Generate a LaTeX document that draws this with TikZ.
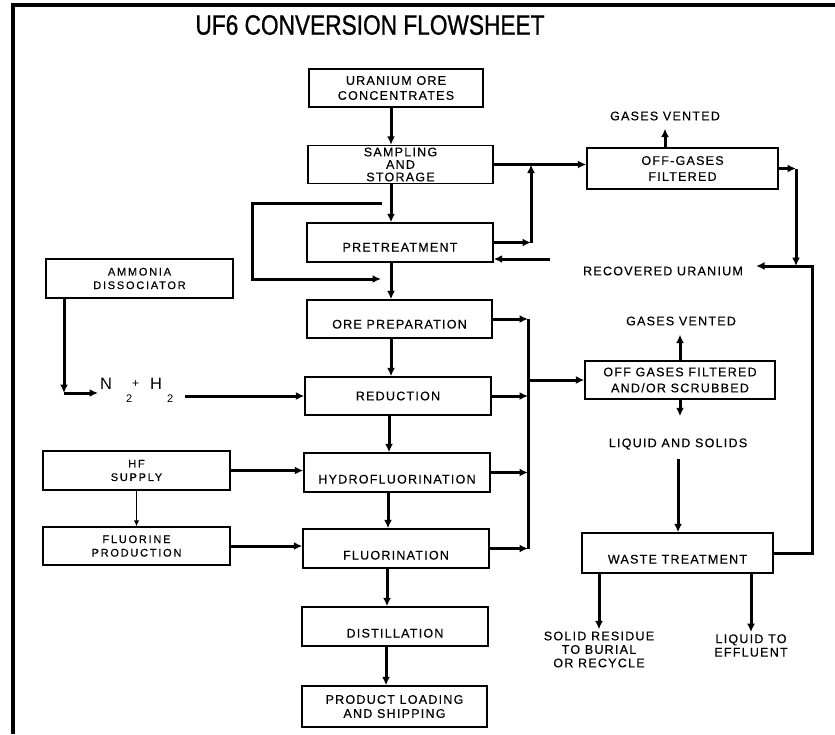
\documentclass[tikz,border=0pt]{standalone}
\usepackage{fontspec}
\setmainfont{Liberation Sans}
\newfontfamily\lblfont[LetterSpace=10,FakeBold=0.4]{Liberation Sans}
\newfontfamily\smlfont[LetterSpace=16,FakeBold=0.3]{Liberation Sans}
\newfontfamily\titlefont[FakeStretch=0.81,FakeBold=0.8]{Liberation Sans}
\usetikzlibrary{arrows.meta}
\begin{document}
\begin{tikzpicture}[x=1pt,y=-1pt,
  box/.style={draw,line width=1.4pt,inner sep=0pt,align=center,minimum height=39pt,
    font=\lblfont\fontsize{12.5}{15}\selectfont},
  sbox/.style={draw,line width=1.2pt,inner sep=0pt,align=center,minimum width=187pt,minimum height=39pt,
    font=\smlfont\fontsize{11}{13.5}\selectfont},
  capsdown/.style={text height=#1,text depth=0pt},
  lbl/.style={inner sep=2pt,align=center,font=\lblfont\fontsize{12.5}{13.5}\selectfont},
  flow/.style={line width=3pt,-{Latex[length=8.5pt,width=8pt]}},
  plain/.style={line width=3pt},
  thinflow/.style={line width=1.5pt,-{Latex[length=6pt,width=5.5pt]}},
]
\useasboundingbox (0,0) rectangle (835,734);
% frame
\draw[line width=4pt,line join=miter] (13,734) -- (13,5) -- (835,5);
% title
\node[inner sep=0pt,font=\titlefont\fontsize{28}{30}\selectfont] (title) at (370,25) {UF6 CONVERSION FLOWSHEET};

% main column
\node[box,minimum width=174pt,minimum height=38pt] (uoc) at (396,88) {URANIUM ORE\\CONCENTRATES};
\node[box,minimum width=185pt,minimum height=38pt,font=\lblfont\fontsize{12.5}{12.5}\selectfont] (samp) at (400.5,164.5) {SAMPLING\\AND\\STORAGE};
\node[box,minimum width=186pt,capsdown=18pt] (pre) at (400,242.5) {PRETREATMENT};
\node[box,minimum width=185pt,minimum height=38pt,capsdown=19pt] (orep) at (399.5,319) {ORE PREPARATION};
\node[box,minimum width=186pt,minimum height=38pt] (red) at (398,396) {REDUCTION};
\node[box,minimum width=186pt,capsdown=22pt] (hydro) at (397,472.5) {HYDROFLUORINATION};
\node[box,minimum width=186pt,capsdown=22pt] (fluor) at (396,548.5) {FLUORINATION};
\node[box,minimum width=186pt,capsdown=22pt] (dist) at (395,626.5) {DISTILLATION};
\node[box,minimum width=185pt,minimum height=41pt,font=\lblfont\fontsize{12.5}{14}\selectfont] (prod) at (394.5,706.5) {PRODUCT LOADING\\AND SHIPPING};

% left column
\node[sbox] (amm) at (139.5,278.5) {AMMONIA\\DISSOCIATOR};
\node[sbox] (hf) at (136.5,470.5) {HF\\SUPPLY};
\node[sbox,minimum height=38pt] (fp) at (136.5,546) {FLUORINE\\PRODUCTION};
\node[anchor=west,inner sep=2pt,font=\fontsize{16.5}{16.5}\selectfont] (n2) at (98,384)
  {N\kern14pt\raisebox{-13pt}[0pt][0pt]{\fontsize{11}{11}\selectfont 2}\kern0pt\raisebox{2.5pt}[0pt][0pt]{\fontsize{12}{12}\selectfont +}\kern11pt H\kern5pt\raisebox{-13pt}[0pt][0pt]{\fontsize{11}{11}\selectfont 2}};

% right side
\node[box,minimum width=191pt,minimum height=41pt,font=\lblfont\fontsize{12.5}{16}\selectfont] (offg) at (682.5,168.5) {OFF-GASES\\FILTERED};
\node[lbl] (gv1) at (665,116) {GASES VENTED};
\node[lbl] (recov) at (663,271) {RECOVERED URANIUM};
\node[box,minimum width=190pt,minimum height=38pt,font=\lblfont\fontsize{12.5}{16}\selectfont] (og2) at (680,380) {OFF GASES FILTERED\\AND/OR SCRUBBED};
\node[lbl] (gv2) at (681,321) {GASES VENTED};
\node[lbl] (liq) at (678,444) {LIQUID AND SOLIDS};
\node[box,minimum width=191pt,minimum height=40pt,capsdown=21pt] (waste) at (677.5,553) {WASTE TREATMENT};
\node[lbl] (sol) at (599,649.5) {SOLID RESIDUE\\TO BURIAL\\OR RECYCLE};
\node[lbl] (eff) at (751,645.5) {LIQUID TO\\EFFLUENT};

% helper coordinates
\coordinate (m) at (391,0);
\coordinate (cx) at (528,0);
\coordinate (j1) at (531,242.5);
\coordinate (rc) at (796,266);
\coordinate (wr) at (812,0);
\coordinate (rec2) at (550,259);
\coordinate (ac) at (64,393);
\coordinate (b1) at (382,203);
\coordinate (b2) at (252,203);
\coordinate (b3) at (252,279);
\coordinate (b4) at (381,279);

% main flow
\draw[flow] (uoc.south -| m) -- (samp.north -| m);
\draw[flow] (samp.south -| m) -- (pre.north -| m);
\draw[flow] (pre.south -| m) -- (orep.north -| m);
\draw[flow] (orep.south -| m) -- (red.north -| m);
\draw[flow] ([xshift=-2pt]red.south -| m) -- ([xshift=-2pt]hydro.north -| m);
\draw[flow] ([xshift=-3pt]hydro.south -| m) -- ([xshift=-3pt]fluor.north -| m);
\draw[flow] ([xshift=-4pt]fluor.south -| m) -- ([xshift=-4pt]dist.north -| m);
\draw[flow] ([xshift=-5pt]dist.south -| m) -- ([xshift=-5pt]prod.north -| m);

% pretreatment bypass
\draw[flow] (b1) -- (b2) -- (b3) -- (b4);

% sampling / pretreatment off-gases
\draw[flow] (samp.east) -- (samp.east -| offg.west);
\draw[flow] (pre.east) -- (j1);
\draw[flow] (j1) -- (samp.east -| j1);
\draw[flow,shorten >=6pt] (offg.north -| gv1) -- (gv1.south);
\draw[flow] (offg.east) -- (offg.east -| rc);
\draw[flow] (offg.east -| rc) -- (rc);
\draw[flow,shorten >=11pt] (waste.east) -| (wr |- rc) -- (recov.east |- rc);
\draw[flow] (rec2) -- (rec2 -| pre.east);

% left inputs
\draw[flow] (amm.south -| ac) -- (ac);
\draw[flow] (ac) -- (ac -| n2.west);
\draw[flow,shorten <=10pt] (n2.east |- red.west) -- (red.west);
\draw[flow] (hf.east) -- (hf.east -| hydro.west);
\draw[flow] (fp.east) -- (fp.east -| fluor.west);
\draw[thinflow] (hf.south) -- (fp.north);

% collector
\draw[plain] (orep.east -| cx) -- (fluor.east -| cx);
\draw[flow] (orep.east) -- (orep.east -| cx);
\draw[flow] (red.east) -- (red.east -| cx);
\draw[flow] (hydro.east) -- (hydro.east -| cx);
\draw[flow] (fluor.east) -- (fluor.east -| cx);
\draw[flow] (cx |- og2.west) -- (og2.west);

% off gases 2
\draw[flow,shorten >=7pt] (og2.north) -- (og2.north |- gv2.south);
\draw[flow,shorten >=20pt] (og2.south) -- (og2.south |- liq.north);
\draw[flow,shorten <=7pt] (liq.south) -- (liq.south |- waste.north);
\draw[flow] (waste.south -| sol.north) -- (sol.north);
\draw[flow] (waste.south -| eff.north) -- (eff.north);
\end{tikzpicture}
\end{document}
